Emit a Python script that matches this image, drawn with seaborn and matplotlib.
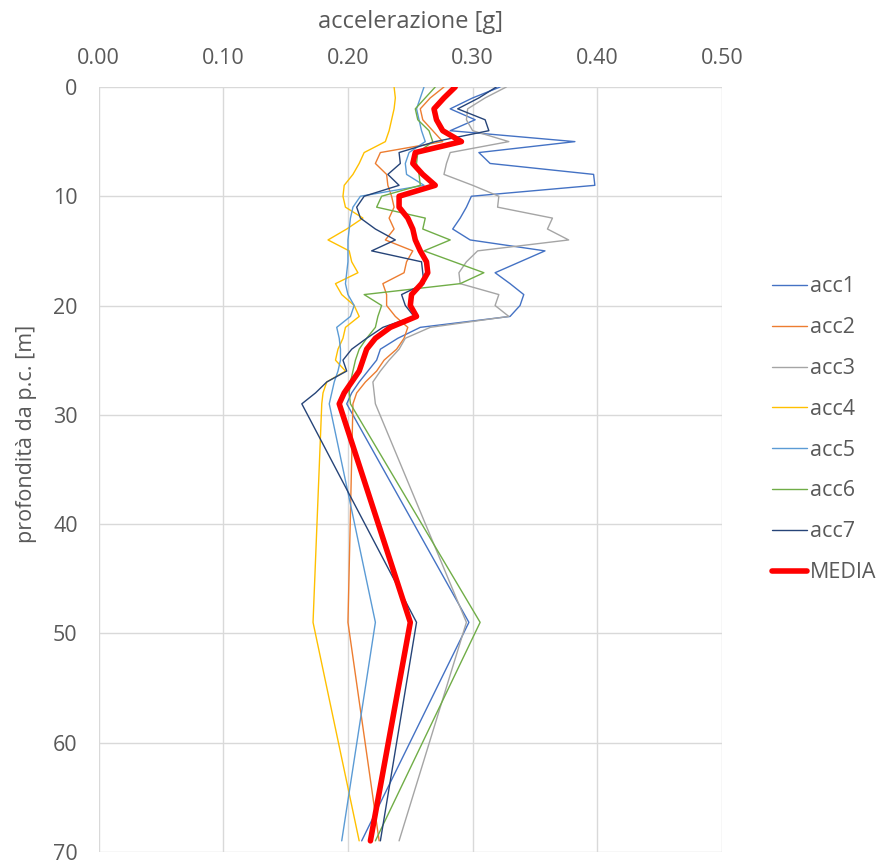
import matplotlib
matplotlib.use("Agg")
import matplotlib.pyplot as plt
import seaborn as sns
import pandas as pd

# profondita' [m] dei punti di lettura
depth = [0, 1, 2, 3, 4, 5, 6, 7, 8, 9, 10, 11, 12, 13, 14, 15, 16, 17, 18, 19,
         20, 21, 22, 23, 24, 25, 26, 27, 28, 29, 49, 69]

# accelerazioni massime [g]
acc1 = [0.322, 0.300, 0.282, 0.302, 0.282, 0.382, 0.305, 0.314, 0.397, 0.398,
        0.299, 0.295, 0.290, 0.284, 0.298, 0.358, 0.338, 0.318, 0.330, 0.341,
        0.338, 0.330, 0.258, 0.240, 0.226, 0.223, 0.216, 0.209, 0.203, 0.199,
        0.297, 0.211]
acc2 = [0.277, 0.266, 0.258, 0.260, 0.268, 0.276, 0.226, 0.222, 0.231, 0.232,
        0.235, 0.237, 0.233, 0.237, 0.230, 0.252, 0.247, 0.245, 0.228, 0.231,
        0.231, 0.238, 0.248, 0.245, 0.239, 0.229, 0.223, 0.214, 0.207, 0.204,
        0.200, 0.225]
acc3 = [0.327, 0.310, 0.296, 0.295, 0.300, 0.329, 0.282, 0.279, 0.277, 0.300,
        0.321, 0.320, 0.364, 0.360, 0.377, 0.304, 0.295, 0.289, 0.290, 0.321,
        0.318, 0.329, 0.266, 0.246, 0.241, 0.233, 0.226, 0.220, 0.221, 0.222,
        0.295, 0.241]
acc4 = [0.237, 0.238, 0.237, 0.235, 0.233, 0.230, 0.213, 0.209, 0.204, 0.197,
        0.196, 0.198, 0.212, 0.199, 0.184, 0.201, 0.203, 0.208, 0.190, 0.195,
        0.205, 0.209, 0.198, 0.196, 0.192, 0.190, 0.198, 0.183, 0.180, 0.179,
        0.172, 0.209]
acc5 = [0.261, 0.258, 0.255, 0.257, 0.259, 0.262, 0.249, 0.246, 0.247, 0.261,
        0.210, 0.204, 0.202, 0.201, 0.200, 0.200, 0.200, 0.199, 0.198, 0.200,
        0.205, 0.202, 0.191, 0.193, 0.194, 0.194, 0.192, 0.189, 0.187, 0.185,
        0.222, 0.195]
acc6 = [0.270, 0.262, 0.254, 0.256, 0.265, 0.268, 0.256, 0.255, 0.257, 0.258,
        0.227, 0.223, 0.262, 0.260, 0.282, 0.261, 0.285, 0.309, 0.290, 0.213,
        0.227, 0.224, 0.222, 0.215, 0.209, 0.206, 0.204, 0.202, 0.201, 0.202,
        0.306, 0.222]
acc7 = [0.319, 0.305, 0.288, 0.310, 0.313, 0.270, 0.241, 0.242, 0.232, 0.241,
        0.213, 0.207, 0.210, 0.222, 0.238, 0.219, 0.259, 0.260, 0.261, 0.243,
        0.246, 0.253, 0.228, 0.215, 0.203, 0.196, 0.199, 0.183, 0.174, 0.163,
        0.255, 0.226]
media = [0.286, 0.277, 0.269, 0.271, 0.276, 0.291, 0.254, 0.252, 0.260, 0.270,
         0.241, 0.241, 0.248, 0.252, 0.254, 0.258, 0.263, 0.264, 0.259, 0.251,
         0.250, 0.255, 0.234, 0.222, 0.215, 0.212, 0.209, 0.203, 0.197, 0.193,
         0.250, 0.218]

series = ["acc1", "acc2", "acc3", "acc4", "acc5", "acc6", "acc7", "MEDIA"]
values = [acc1, acc2, acc3, acc4, acc5, acc6, acc7, media]
colors = ["#4472C4", "#ED7D31", "#A5A5A5", "#FFC000", "#5B9BD5", "#70AD47",
          "#264478", "#FF0000"]

rows = []
for name, vals in zip(series, values):
    for d, a in zip(depth, vals):
        rows.append({"serie": name, "depth": d, "acc": a})
df = pd.DataFrame(rows)

sns.set_theme(style="white")
plt.rcParams["font.family"] = ["Open Sans", "DejaVu Sans"]
grey = "#595959"

fig = plt.figure(figsize=(8.8, 8.63), dpi=100)
ax = fig.add_axes([0.112, 0.0130, 0.7085, 0.8862])

sizes = {s: 1.0 for s in series}
sizes["MEDIA"] = 4.0
sns.lineplot(data=df, x="acc", y="depth", hue="serie", hue_order=series,
             palette=dict(zip(series, colors)), size="serie", sizes=sizes,
             size_order=series, sort=False, estimator=None, orient="y", ax=ax)

ax.set_xlim(0, 0.5)
ax.set_ylim(70, 0)
ax.set_xticks([0, 0.1, 0.2, 0.3, 0.4, 0.5])
ax.set_xticklabels(["0.00", "0.10", "0.20", "0.30", "0.40", "0.50"])
ax.set_yticks(range(0, 71, 10))
ax.xaxis.tick_top()
ax.xaxis.set_label_position("top")
ax.tick_params(axis="x", length=0, pad=13, labelsize=15.5, labelcolor=grey)
ax.tick_params(axis="y", length=0, pad=15, labelsize=15.5, labelcolor=grey)
ax.grid(True, color="#D9D9D9", linewidth=1.0)
for sp in ax.spines.values():
    sp.set_visible(False)
ax.set_axisbelow(True)

ax.set_xlabel("accelerazione [g]", fontsize=17, color=grey, labelpad=14)
ax.set_ylabel("profondità da p.c. [m]", fontsize=15.5, color=grey)
ax.yaxis.set_label_coords(-0.098, 0.547)

handles, labels = ax.get_legend_handles_labels()
ax.legend(handles, labels, loc="center left", bbox_to_anchor=(0.855, 0.502),
          bbox_transform=fig.transFigure, frameon=False, fontsize=15.5,
          labelcolor=grey, handlelength=1.65, handletextpad=0.14,
          labelspacing=0.92)

fig.savefig("out.png", dpi=100)
